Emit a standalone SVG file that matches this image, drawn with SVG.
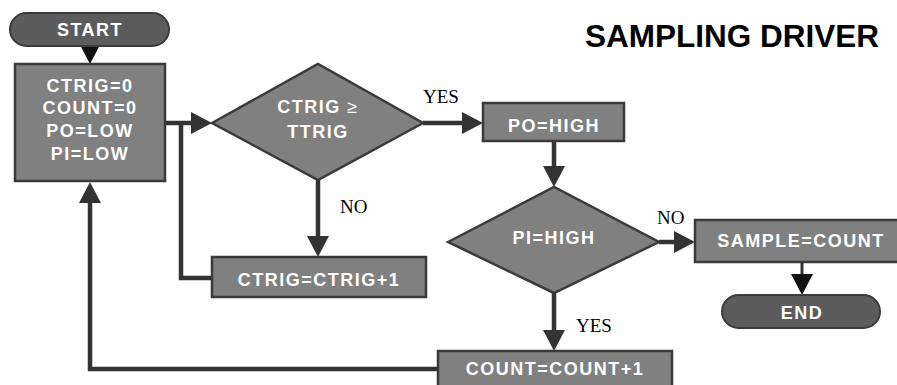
<svg xmlns="http://www.w3.org/2000/svg" width="897" height="385" viewBox="0 0 897 385">
<style>
.box{fill:#808080;stroke:#3a3a3a;stroke-width:2.5}
.pill{fill:#5c5c5c;stroke:#3a3a3a;stroke-width:2}
.t{font-family:"Liberation Sans",Arial,sans-serif;font-weight:bold;font-size:18px;fill:#fff;text-anchor:middle;letter-spacing:1.5px}
.lbl{font-family:"Liberation Serif","Times New Roman",serif;font-size:19px;fill:#000}
.c{fill:none;stroke:#333;stroke-width:4.5}
.thin{stroke-width:3}
</style>
<defs>
<marker id="ah" viewBox="0 0 21 22" refX="13" refY="11" markerWidth="21" markerHeight="22" markerUnits="userSpaceOnUse" orient="auto">
<path d="M0,0 L21,11 L0,22 z" fill="#333"/>
</marker>
<marker id="ahb" viewBox="0 0 21 22" refX="13" refY="11" markerWidth="21" markerHeight="22" markerUnits="userSpaceOnUse" orient="auto">
<path d="M0,0 L21,11 L0,22 z" fill="#111"/>
</marker>
</defs>
<rect width="897" height="385" fill="#fff"/>
<text x="585" y="47" font-family="Liberation Sans,Arial,sans-serif" font-weight="bold" font-size="31.5" fill="#000">SAMPLING DRIVER</text>

<g id="connectors">
<path class="c thin" d="M90,46 L90,56" marker-end="url(#ahb)"/>
<path class="c" d="M166,123 L204,123" marker-end="url(#ah)"/>
<path class="c" d="M318,180 L318,249" marker-end="url(#ah)"/>
<path class="c" d="M212,278 L181,278 L181,123"/>
<path class="c" d="M423,123 L475,123" marker-end="url(#ah)"/>
<path class="c" d="M554,141 L554,179" marker-end="url(#ah)"/>
<path class="c" d="M659,242 L687,242" marker-end="url(#ah)"/>
<path class="c thin" d="M802,262 L802,287" marker-end="url(#ahb)"/>
<path class="c" d="M554,293 L554,343" marker-end="url(#ah)"/>
<path class="c" d="M438,369 L90,369 L90,190" marker-end="url(#ah)"/>
<text class="lbl" x="423" y="103">YES</text>
<text class="lbl" x="340" y="213">NO</text>
<text class="lbl" x="657" y="224">NO</text>
<text class="lbl" x="576" y="332">YES</text>
</g>

<g id="start">
<rect class="pill" x="10" y="13" width="159" height="33" rx="16.5"/>
<text class="t" x="90" y="36">START</text>
</g>
<g id="init">
<rect class="box" x="15" y="64" width="150" height="117"/>
<text class="t" x="90" y="92">CTRIG=0</text>
<text class="t" x="90" y="114">COUNT=0</text>
<text class="t" x="90" y="137">PO=LOW</text>
<text class="t" x="90" y="160">PI=LOW</text>
</g>
<g id="check-ctrig">
<polygon class="box" points="212,123 318,64 423,123 318,180"/>
<text class="t" x="318" y="113">CTRIG <tspan font-weight="normal">≥</tspan></text>
<text class="t" x="318" y="138">TTRIG</text>
</g>
<g id="ctrig-inc">
<rect class="box" x="212" y="257" width="214" height="40"/>
<text class="t" x="319" y="286">CTRIG=CTRIG+1</text>
</g>
<g id="po-high">
<rect class="box" x="483" y="103" width="141" height="38"/>
<text class="t" x="554" y="132">PO=HIGH</text>
</g>
<g id="check-pi">
<polygon class="box" points="448,242 554,187 659,242 554,293"/>
<text class="t" x="554" y="244">PI=HIGH</text>
</g>
<g id="sample">
<rect class="box" x="695" y="220" width="210" height="42"/>
<text class="t" x="801" y="247">SAMPLE=COUNT</text>
</g>
<g id="end">
<rect class="pill" x="722" y="295" width="158" height="33" rx="16.5"/>
<text class="t" x="802" y="319">END</text>
</g>
<g id="count-inc">
<rect class="box" x="438" y="351" width="234" height="40"/>
<text class="t" x="555" y="375">COUNT=COUNT+1</text>
</g>
</svg>
